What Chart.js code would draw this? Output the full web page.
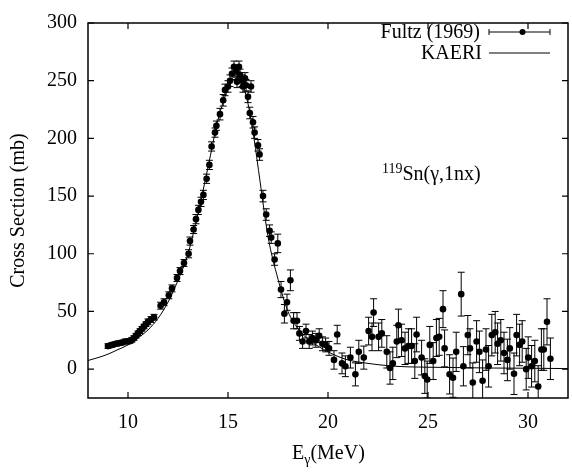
<!DOCTYPE html>
<html>
<head>
<meta charset="utf-8">
<script src="https://cdn.jsdelivr.net/npm/chart.js@4.4.0/dist/chart.umd.min.js"></script>
<style>
  body { margin: 0; background: #fff; }
  #wrap { position: relative; width: 572px; height: 473px; font-family: "Liberation Serif", serif; color: #000; }
  #wrap canvas { position: absolute; left: 0; top: 0; }
  .lbl { position: absolute; font-size: 20px; line-height: 24px; white-space: nowrap; }
  .sm { font-size: 14px; position: relative; }
</style>
</head>
<body>
<div id="wrap">
  <canvas id="grafica" width="572" height="473"></canvas>
  <div class="lbl" style="right:92px; top:19px;">Fultz (1969)</div>
  <div class="lbl" style="right:90px; top:40px;">KAERI</div>
  <div class="lbl" style="left:382px; top:161px;"><span class="sm" style="top:-7px;">119</span>Sn(γ,1nx)</div>
  <div class="lbl" style="left:292px; top:440px;">E<span class="sm" style="top:5px;">γ</span>(MeV)</div>
</div>
<script>
// Datos: Fultz (1969) con barras de error
const energiaFultz = [
  9.0, 9.2, 9.4, 9.55, 9.7, 9.85, 10.0, 10.1, 10.2, 10.3, 10.4, 10.5, 10.6, 10.7, 10.8, 10.9,
  11.0, 11.15, 11.3, 11.63, 11.8, 12.04, 12.2, 12.45, 12.6, 12.8, 13.03, 13.1, 13.28, 13.4,
  13.52, 13.65, 13.77, 13.93, 14.07, 14.18, 14.35, 14.42, 14.6, 14.76, 14.85, 15.0, 15.1, 15.2,
  15.3, 15.4, 15.45, 15.55, 15.6, 15.7, 15.75, 15.85, 15.9, 16.0, 16.09, 16.15, 16.25, 16.33,
  16.5, 16.58, 16.75, 16.91, 17.08, 17.16, 17.33, 17.49, 17.65, 17.82, 17.95, 18.12, 18.28,
  18.45, 18.57, 18.73, 18.9, 19.06, 19.22, 19.39, 19.56, 19.72, 19.88, 20.05, 20.3, 20.46,
  20.7, 20.87, 21.12, 21.37, 21.54, 21.79, 22.03, 22.2, 22.28, 22.53, 22.69, 22.94, 23.1,
  23.24, 23.44, 23.52, 23.68, 23.85, 24.02, 24.18, 24.34, 24.43, 24.68, 24.84, 24.96, 25.09,
  25.26, 25.42, 25.56, 25.75, 25.83, 26.08, 26.25, 26.41, 26.66, 26.77, 26.99, 27.1, 27.24,
  27.43, 27.57, 27.73, 27.9, 28.03, 28.19, 28.36, 28.48, 28.64, 28.8, 28.97, 29.09, 29.3,
  29.43, 29.58, 29.71, 29.91, 30.01, 30.18, 30.34, 30.51, 30.67, 30.79, 30.95, 31.12
];
const seccionFultz = [
  20, 21, 22, 22.5, 23, 24, 24, 24.5, 25.5, 27, 29, 31, 33, 35, 37, 39,
  41, 43, 45, 55, 58, 64, 70, 79, 85, 92, 100, 111, 121, 130,
  138, 145, 151, 165, 177, 193, 205, 211, 221, 233, 242, 245, 250, 256,
  262, 258, 249, 262, 255, 250, 245, 252, 246, 236, 222, 245, 214, 205,
  194, 186, 150, 134, 120, 114, 95, 109, 69, 48, 58, 77, 42,
  42, 31, 24, 33, 24, 27, 25, 29, 22, 21, 18, 8, 30,
  5, 2.5, 10, -4.5, 15, 10, 33, 28, 49, 28, 31, 15, 1,
  5, 24, 38, 25, 18, 20, 20, 7, 30, 10, -6, -9, 21,
  7, 27, 28, 52, 18, -4.5, -7.4, 15, 65, 2.5, 29.5, 18, -11.6,
  24, 15, -10, 17, 2.5, 29.5, 32, 22, 25, 14, 8, 18, -4,
  29.5, 21, 24, 0, 10, 2.5, 7, -15, 17, 17, 41, 9
];
const errorFultz = [
  2, 2, 2, 2, 2, 2, 2, 2, 2, 2, 2, 2, 2, 2, 2, 2,
  2.5, 2.5, 2.5, 3, 3, 3, 3, 3, 3, 3, 3.5, 3.5, 3.5, 4,
  4, 4, 4, 4, 4, 4, 4, 4, 5, 5, 5, 5, 5, 5,
  5, 5, 5, 5, 5, 5, 5, 5, 5, 5, 5, 5, 5, 5,
  5, 5, 5, 5, 5, 5, 5, 8, 7, 8, 7, 9, 7,
  7, 6, 6, 6, 6, 6, 6, 6, 6, 6, 6, 8, 8,
  9, 9, 9, 10, 10, 10, 12, 12, 12, 12, 12, 14, 14,
  14, 14, 14, 14, 14, 15, 15, 15, 15, 15, 15, 16, 16,
  16, 16, 16, 16, 16, 17, 17, 17, 19, 17, 17, 17, 17,
  18, 18, 18, 18, 18, 18, 18, 18, 18, 18, 18, 18, 18,
  18, 18, 18, 18, 18, 18, 18, 18, 18, 18, 20, 18
];

// Curva KAERI
const energiaKaeri = [8, 8.5, 9, 9.5, 10, 10.5, 11, 11.5, 12, 12.5, 13, 13.5, 14, 14.5, 15, 15.3,
  15.5, 15.7, 16, 16.3, 16.6, 17, 17.5, 18, 18.5, 19, 19.5, 20, 20.5, 21, 22, 23, 24, 26, 28, 30, 32];
const seccionKaeri = [7.5, 10, 13, 17, 21, 27, 34, 44, 58, 77, 100, 135, 175, 216, 243, 251,
  252, 248, 230, 200, 163, 115, 78, 50, 35, 26, 20, 15, 11, 8, 5, 3, 2, 1.5, 1, 0.8, 0.5];

const ticksX = [10, 15, 20, 25, 30];
const ticksY = [0, 50, 100, 150, 200, 250, 300];

// Marco, marcas hacia dentro, barras de error y símbolos de la leyenda
const marcoYBarras = {
  id: 'marcoYBarras',
  beforeDatasetsDraw(chart) {
    const ctx = chart.ctx;
    const a = chart.chartArea;
    const sx = chart.scales.x, sy = chart.scales.y;
    ctx.save();
    ctx.beginPath();
    ctx.rect(a.left, a.top, a.right - a.left, a.bottom - a.top);
    ctx.clip();
    ctx.strokeStyle = '#000';
    ctx.lineWidth = 1;
    energiaFultz.forEach((e, i) => {
      const px = sx.getPixelForValue(e);
      const arriba = sy.getPixelForValue(seccionFultz[i] + errorFultz[i]);
      const abajo = sy.getPixelForValue(seccionFultz[i] - errorFultz[i]);
      ctx.beginPath();
      ctx.moveTo(px, arriba); ctx.lineTo(px, abajo);
      ctx.moveTo(px - 3.5, arriba); ctx.lineTo(px + 3.5, arriba);
      ctx.moveTo(px - 3.5, abajo); ctx.lineTo(px + 3.5, abajo);
      ctx.stroke();
    });
    ctx.restore();
  },
  afterDatasetsDraw(chart) {
    const ctx = chart.ctx;
    const a = chart.chartArea;
    const sx = chart.scales.x, sy = chart.scales.y;
    ctx.save();
    ctx.strokeStyle = '#000';
    ctx.lineWidth = 1.5;
    ctx.strokeRect(a.left, a.top, a.right - a.left, a.bottom - a.top);
    ctx.lineWidth = 1.2;
    ctx.beginPath();
    ticksX.forEach(v => {
      const px = sx.getPixelForValue(v);
      ctx.moveTo(px, a.bottom); ctx.lineTo(px, a.bottom - 6);
      ctx.moveTo(px, a.top); ctx.lineTo(px, a.top + 6);
    });
    ticksY.forEach(v => {
      const py = sy.getPixelForValue(v);
      ctx.moveTo(a.left, py); ctx.lineTo(a.left + 6, py);
      ctx.moveTo(a.right, py); ctx.lineTo(a.right - 6, py);
    });
    ctx.stroke();
    // leyenda
    ctx.lineWidth = 1;
    ctx.beginPath();
    ctx.moveTo(489, 32); ctx.lineTo(550, 32);
    ctx.moveTo(489, 29); ctx.lineTo(489, 35);
    ctx.moveTo(550, 29); ctx.lineTo(550, 35);
    ctx.moveTo(489, 53); ctx.lineTo(550, 53);
    ctx.stroke();
    ctx.beginPath();
    ctx.arc(522.5, 32, 3, 0, Math.PI * 2);
    ctx.fillStyle = '#000';
    ctx.fill();
    ctx.restore();
  }
};

const fuente = { family: '"Liberation Serif", serif', size: 20 };

const ctx = document.getElementById('grafica').getContext('2d');
new Chart(ctx, {
  type: 'scatter',
  data: {
    datasets: [
      {
        label: 'Fultz (1969)',
        data: energiaFultz.map((e, i) => ({ x: e, y: seccionFultz[i] })),
        backgroundColor: '#000',
        borderColor: '#000',
        pointRadius: 3.3,
        pointBorderWidth: 0
      },
      {
        label: 'KAERI',
        data: energiaKaeri.map((e, i) => ({ x: e, y: seccionKaeri[i] })),
        showLine: true,
        cubicInterpolationMode: 'monotone',
        borderColor: '#000',
        borderWidth: 1,
        pointRadius: 0
      }
    ]
  },
  options: {
    responsive: false,
    animation: false,
    layout: { padding: { left: 0, right: 1, top: 15, bottom: 0 } },
    plugins: { legend: { display: false }, tooltip: { enabled: false } },
    scales: {
      x: {
        type: 'linear',
        min: 8,
        max: 32,
        afterBuildTicks: s => { s.ticks = ticksX.map(v => ({ value: v })); },
        afterFit: s => { s.height = 75; },
        grid: { display: false, drawTicks: false },
        border: { display: false },
        ticks: { color: '#000', font: fuente, padding: 13, maxRotation: 0 }
      },
      y: {
        min: -25,
        max: 300,
        afterBuildTicks: s => { s.ticks = ticksY.map(v => ({ value: v })); },
        afterFit: s => { s.width = 88; },
        grid: { display: false, drawTicks: false },
        border: { display: false },
        ticks: { color: '#000', font: fuente, padding: 11 },
        title: { display: true, text: 'Cross Section (mb)', color: '#000', font: fuente, padding: { top: 7, bottom: 0 } }
      }
    }
  },
  plugins: [marcoYBarras]
});
</script>
</body>
</html>
